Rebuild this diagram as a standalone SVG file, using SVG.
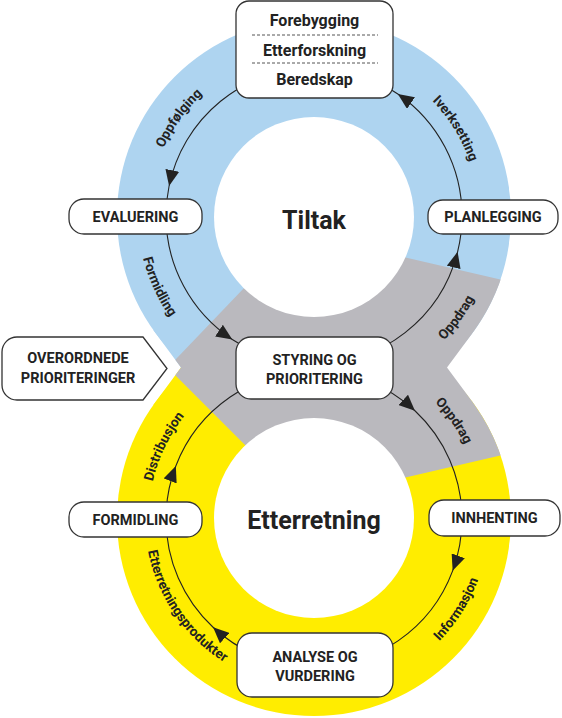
<svg xmlns="http://www.w3.org/2000/svg" width="562" height="718" viewBox="0 0 562 718">
<style>
.box{fill:#fff;stroke:#333;stroke-width:1.3}
.lbl{font-family:Roboto,"Liberation Sans",sans-serif;font-weight:700;fill:#222;text-anchor:middle}
.cap{font-size:14.5px}
.top{font-size:16px}
.arc{font-size:13.5px}
.title{font-size:25px}
.conn{fill:none;stroke:#222;stroke-width:1.1;marker-mid:url(#ah)}
.dash{stroke:#555;stroke-width:1;stroke-dasharray:3 2}
.blue{fill:#aed4f0}
.yellow{fill:#ffed00}
</style>
<defs>
<marker id="ah" markerUnits="userSpaceOnUse" viewBox="0 0 16 14" markerWidth="16" markerHeight="14" refX="16" refY="7" orient="auto"><path d="M0,0 L16,7 L0,14 Z" fill="#222"/></marker>
<path id="filletL" d="M153.3,330 L181,367.5 L153.3,405 L230,405 L230,330 Z"/>
<path id="filletR" d="M474.7,330 L447,367.5 L474.7,405 L400,405 L400,330 Z"/>
<clipPath id="eight"><circle cx="314" cy="216" r="197"/><circle cx="314" cy="519" r="197"/><use href="#filletL"/><use href="#filletR"/></clipPath>
<clipPath id="upper"><rect x="0" y="0" width="562" height="367.5"/></clipPath>
<clipPath id="lower"><rect x="0" y="367.5" width="562" height="351"/></clipPath>
<path id="tp1" d="M149.42,227.80 A165,165 0 0 1 273.80,55.97"/>
<path id="tp2" d="M144.40,168.97 A176,176 0 0 0 238.23,374.86"/>
<path id="tp3" d="M365.81,59.34 A165,165 0 0 1 477.27,239.82"/>
<path id="tp4" d="M359.07,390.27 A180,180 0 0 0 493.45,201.88"/>
<path id="tp5" d="M357.20,356.65 A168,168 0 0 1 481.39,533.35"/>
<path id="tp6" d="M367.21,685.72 A175,175 0 0 0 487.42,495.55"/>
<path id="tp7" d="M151.23,473.55 A169,169 0 0 0 297.51,687.19"/>
<path id="tp8" d="M153.56,559.60 A165.5,165.5 0 0 1 246.16,368.04"/>
</defs>

<g id="rings">
<circle cx="314" cy="216" r="197" class="blue"/>
<circle cx="314" cy="519" r="197" class="yellow"/>
<use href="#filletL" class="blue" clip-path="url(#upper)"/>
<use href="#filletL" class="yellow" clip-path="url(#lower)"/>
<polygon clip-path="url(#eight)" fill="#bab9be" points="160,375.7 290,240 330,240 600,302.5 600,432.5 330,495 290,490 152,352"/>
<circle cx="314" cy="217" r="100" fill="#fff"/>
<circle cx="314" cy="518" r="100" fill="#fff"/>
</g>

<g id="connectors">
<path class="conn" d="M314,68 A148,148 0 0 0 169.08,185.99 A148,148 0 0 0 166,216"/>
<path class="conn" d="M166,216 A148,148 0 0 0 232.31,339.42 A148,148 0 0 0 314,364"/>
<path class="conn" d="M314,364 A148,148 0 0 0 457.60,251.80 A148,148 0 0 0 462,216"/>
<path class="conn" d="M462,216 A148,148 0 0 0 397.83,94.03 A148,148 0 0 0 314,68"/>
<path class="conn" d="M314,371 A148,148 0 0 1 414.94,410.76 A148,148 0 0 1 462,519"/>
<path class="conn" d="M462,519 A148,148 0 0 1 452.63,570.83 A148,148 0 0 1 314,667"/>
<path class="conn" d="M314,667 A148,148 0 0 1 213.06,627.24 A148,148 0 0 1 166,519"/>
<path class="conn" d="M166,519 A148,148 0 0 1 175.83,465.96 A148,148 0 0 1 314,371"/>
</g>

<g id="connector-labels">
<text class="lbl arc"><textPath href="#tp1" startOffset="50%">Oppfølging</textPath></text>
<text class="lbl arc"><textPath href="#tp2" startOffset="50%">Formidling</textPath></text>
<text class="lbl arc"><textPath href="#tp3" startOffset="50%">Iverksetting</textPath></text>
<text class="lbl arc"><textPath href="#tp4" startOffset="50%">Oppdrag</textPath></text>
<text class="lbl arc"><textPath href="#tp5" startOffset="50%">Oppdrag</textPath></text>
<text class="lbl arc"><textPath href="#tp6" startOffset="50%">Informasjon</textPath></text>
<text class="lbl arc"><textPath href="#tp7" startOffset="50%">Etterretningsprodukter</textPath></text>
<text class="lbl arc"><textPath href="#tp8" startOffset="50%">Distribusjon</textPath></text>
</g>

<g id="titles">
<text class="lbl title" x="314" y="229">Tiltak</text>
<text class="lbl title" x="314" y="529">Etterretning</text>
</g>

<g id="node-tiltak-typer">
<rect class="box" x="236" y="1" width="157" height="97" rx="13"/>
<line class="dash" x1="252" y1="35" x2="378" y2="35"/>
<line class="dash" x1="252" y1="63" x2="378" y2="63"/>
<text class="lbl top" x="314.5" y="26">Forebygging</text>
<text class="lbl top" x="314.5" y="56">Etterforskning</text>
<text class="lbl top" x="314.5" y="85">Beredskap</text>
</g>

<g id="node-evaluering">
<rect class="box" x="69" y="199" width="133" height="35" rx="15"/>
<text class="lbl cap" x="135.5" y="221.5">EVALUERING</text>
</g>

<g id="node-planlegging">
<rect class="box" x="428" y="200" width="130" height="34" rx="15"/>
<text class="lbl cap" x="493" y="222">PLANLEGGING</text>
</g>

<g id="node-styring">
<rect class="box" x="236" y="337" width="157" height="62" rx="15"/>
<text class="lbl cap" x="314.5" y="365">STYRING OG</text>
<text class="lbl cap" x="314.5" y="384">PRIORITERING</text>
</g>

<g id="node-overordnede">
<path class="box" d="M17,337 H143 L167,368.5 L143,400 H17 A15,15 0 0 1 2,385 V352 A15,15 0 0 1 17,337 Z"/>
<text class="lbl cap" x="78" y="363">OVERORDNEDE</text>
<text class="lbl cap" x="78" y="383">PRIORITERINGER</text>
</g>

<g id="node-formidling">
<rect class="box" x="69" y="502" width="133" height="35" rx="15"/>
<text class="lbl cap" x="135.5" y="524.5">FORMIDLING</text>
</g>

<g id="node-innhenting">
<rect class="box" x="429" y="500" width="131" height="36" rx="15"/>
<text class="lbl cap" x="494.5" y="523">INNHENTING</text>
</g>

<g id="node-analyse">
<rect class="box" x="237" y="633" width="156" height="64" rx="15"/>
<text class="lbl cap" x="315" y="662">ANALYSE OG</text>
<text class="lbl cap" x="315" y="681">VURDERING</text>
</g>
</svg>
